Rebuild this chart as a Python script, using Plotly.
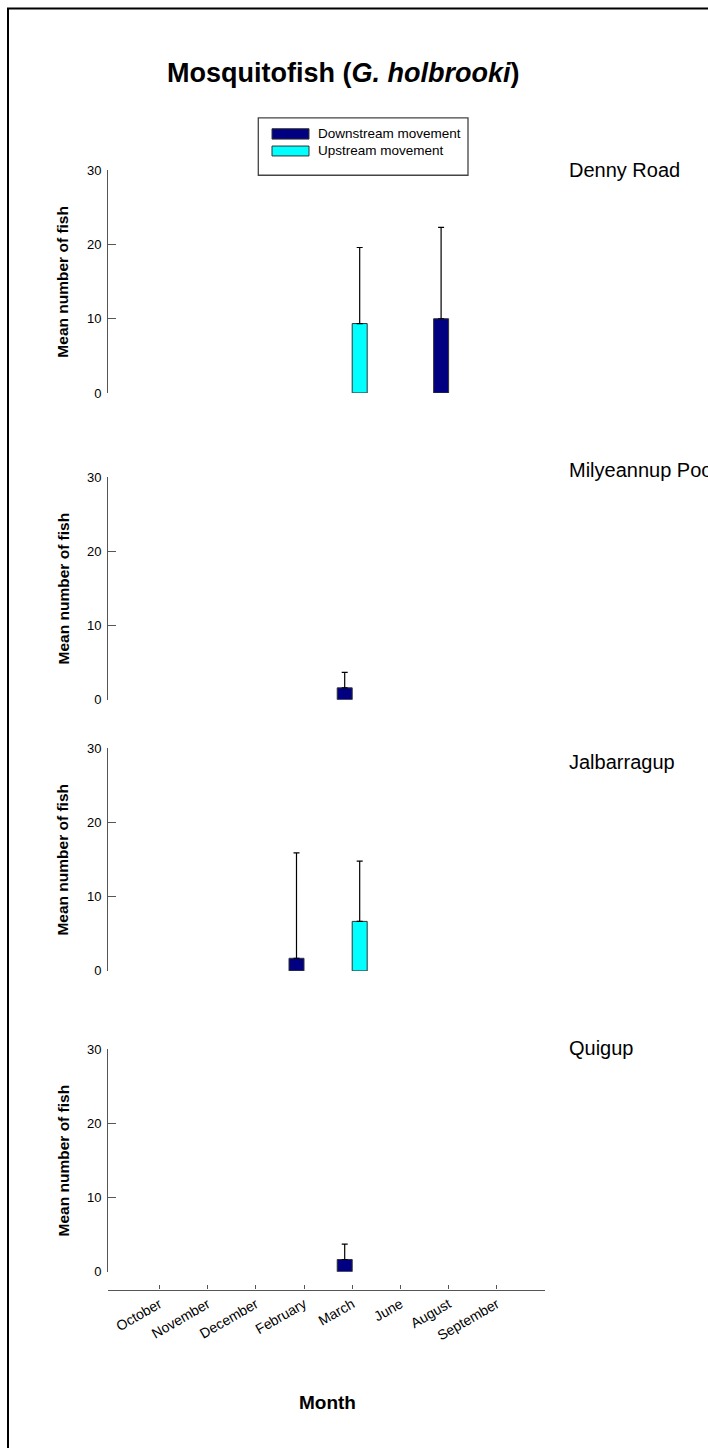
import plotly.graph_objects as go

W, H = 708, 1448

months = ['October', 'November', 'December', 'February', 'March', 'June', 'August', 'September']
sites = ['Denny Road', 'Milyeannup Pool', 'Jalbarragup', 'Quigup']

# mean number of fish (None = no bar)
down_denny = [None, None, None, None, None, None, 10.0, None]
up_denny = [None, None, None, None, 9.35, None, None, None]
down_denny_err = [None, None, None, None, None, None, 12.3, None]
up_denny_err = [None, None, None, None, 10.25, None, None, None]

down_milyeannup = [None, None, None, None, 1.6, None, None, None]
up_milyeannup = [None, None, None, None, None, None, None, None]
down_milyeannup_err = [None, None, None, None, 2.1, None, None, None]
up_milyeannup_err = [None, None, None, None, None, None, None, None]

down_jalbarragup = [None, None, None, 1.7, None, None, None, None]
up_jalbarragup = [None, None, None, None, 6.67, None, None, None]
down_jalbarragup_err = [None, None, None, 14.2, None, None, None, None]
up_jalbarragup_err = [None, None, None, None, 8.13, None, None, None]

down_quigup = [None, None, None, None, 1.65, None, None, None]
up_quigup = [None, None, None, None, None, None, None, None]
down_quigup_err = [None, None, None, None, 2.08, None, None, None]
up_quigup_err = [None, None, None, None, None, None, None, None]

y_ticks = [0, 10, 20, 30]

DOWN_COLOR = '#000080'
UP_COLOR = '#00FFFF'
AXIS_COLOR = '#555555'
FONT = 'Arial, Liberation Sans, sans-serif'

downs = [down_denny, down_milyeannup, down_jalbarragup, down_quigup]
ups = [up_denny, up_milyeannup, up_jalbarragup, up_quigup]
down_errs = [down_denny_err, down_milyeannup_err, down_jalbarragup_err, down_quigup_err]
up_errs = [up_denny_err, up_milyeannup_err, up_jalbarragup_err, up_quigup_err]

# panel pixel positions (y of 30 tick, y of 0 tick)
panel_px = [(165.0, 390.0), (475.0, 700.0), (749.0, 974.0), (1053.0, 1278.0)]
label_px = [165, 468, 763, 1052]
x_left, x_right = 108.3, 545.0
x_axis_px = 1296


def px(x):
    return x / W


def py(y):
    return 1 - y / H


fig = go.Figure()

for i in range(4):
    xa = 'x' if i == 0 else f'x{i+1}'
    ya = 'y' if i == 0 else f'y{i+1}'
    for vals, errs, col, name in [(downs[i], down_errs[i], DOWN_COLOR, 'Downstream movement'),
                                  (ups[i], up_errs[i], UP_COLOR, 'Upstream movement')]:
        fig.add_trace(go.Bar(
            x=months, y=vals, name=name, showlegend=False,
            marker=dict(color=col, line=dict(color='#333333', width=1)),
            error_y=dict(type='data', symmetric=False, array=errs,
                         arrayminus=[0 if e is not None else None for e in errs],
                         color='black', thickness=1.2, width=3),
            offsetgroup=name, xaxis=xa, yaxis=ya,
        ))

layout = dict(
    width=W, height=H, margin=dict(l=0, r=0, t=0, b=0),
    paper_bgcolor='white', plot_bgcolor='white',
    barmode='group', bargap=0.378, bargroupgap=0,
    font=dict(family=FONT, color='black'),
)

for i in range(4):
    top, bot = panel_px[i]
    xkey = 'xaxis' if i == 0 else f'xaxis{i+1}'
    ykey = 'yaxis' if i == 0 else f'yaxis{i+1}'
    ya = 'y' if i == 0 else f'y{i+1}'
    xa = 'x' if i == 0 else f'x{i+1}'
    xaxis = dict(domain=[px(x_left), px(x_right)], range=[-1.06, 8.0],
                 type='category', categoryorder='array', categoryarray=months,
                 showgrid=False, zeroline=False, fixedrange=True)
    if i < 3:
        xaxis.update(visible=False, anchor=ya)
    else:
        xaxis.update(anchor='free', position=py(x_axis_px), showline=True,
                     linecolor=AXIS_COLOR, linewidth=1.3, ticks='inside', ticklen=4,
                     tickcolor=AXIS_COLOR, tickangle=-30,
                     tickfont=dict(size=14, family=FONT, color='black'))
    layout[xkey] = xaxis
    layout[ykey] = dict(domain=[py(bot), py(top)], range=[0, 30], anchor=xa,
                        tickvals=y_ticks, ticktext=[str(v) for v in y_ticks],
                        showline=True, linecolor=AXIS_COLOR, linewidth=1.3,
                        ticks='inside', ticklen=8, tickcolor=AXIS_COLOR,
                        ticklabelstandoff=3,
                        tickfont=dict(size=13, family=FONT, color='black'),
                        showgrid=False, zeroline=False, fixedrange=True)

fig.update_layout(**layout)

annotations = []
# title
annotations.append(dict(text='<b>Mosquitofish (<i>G. holbrooki</i>)</b>', x=px(343), y=py(67),
                        xref='paper', yref='paper', showarrow=False, xanchor='center', yanchor='middle',
                        font=dict(size=27, family=FONT, color='black')))
# panel labels + y titles
for i in range(4):
    top, bot = panel_px[i]
    annotations.append(dict(text=sites[i], x=px(567), y=py(label_px[i]), xref='paper', yref='paper',
                            showarrow=False, xanchor='left', yanchor='middle',
                            font=dict(size=20, family=FONT, color='black')))
    annotations.append(dict(text='<b>Mean number of fish</b>', x=px(63), y=py((top + bot) / 2),
                            xref='paper', yref='paper', showarrow=False, textangle=-90,
                            xanchor='center', yanchor='middle',
                            font=dict(size=15.5, family=FONT, color='black')))
# x title
annotations.append(dict(text='<b>Month</b>', x=px(327), y=py(1410), xref='paper', yref='paper',
                        showarrow=False, xanchor='center', yanchor='middle',
                        font=dict(size=19, family=FONT, color='black')))
# legend text
annotations.append(dict(text='Downstream movement', x=px(316), y=py(127.5), xref='paper', yref='paper',
                        showarrow=False, xanchor='left', yanchor='middle',
                        font=dict(size=13.5, family=FONT, color='black')))
annotations.append(dict(text='Upstream movement', x=px(316), y=py(144.6), xref='paper', yref='paper',
                        showarrow=False, xanchor='left', yanchor='middle',
                        font=dict(size=13.5, family=FONT, color='black')))

shapes = [
    # outer border (cropped at right and bottom)
    dict(type='rect', xref='paper', yref='paper', x0=px(8), x1=px(W + 20), y0=py(1.5), y1=py(H + 20),
         line=dict(color='black', width=2), fillcolor='rgba(0,0,0,0)'),
    # legend box
    dict(type='rect', xref='paper', yref='paper', x0=px(258.3), x1=px(468), y0=py(112), y1=py(170),
         line=dict(color='#444444', width=1.3), fillcolor='white'),
    dict(type='rect', xref='paper', yref='paper', x0=px(272), x1=px(309), y0=py(123), y1=py(133.5),
         line=dict(color='#333333', width=1), fillcolor=DOWN_COLOR),
    dict(type='rect', xref='paper', yref='paper', x0=px(272), x1=px(309), y0=py(140.5), y1=py(150.5),
         line=dict(color='#333333', width=1), fillcolor=UP_COLOR),
]

fig.update_layout(annotations=annotations, shapes=shapes)

fig.write_html("out.html", config={'displayModeBar': False},
               post_script="document.body.style.margin='0';")
